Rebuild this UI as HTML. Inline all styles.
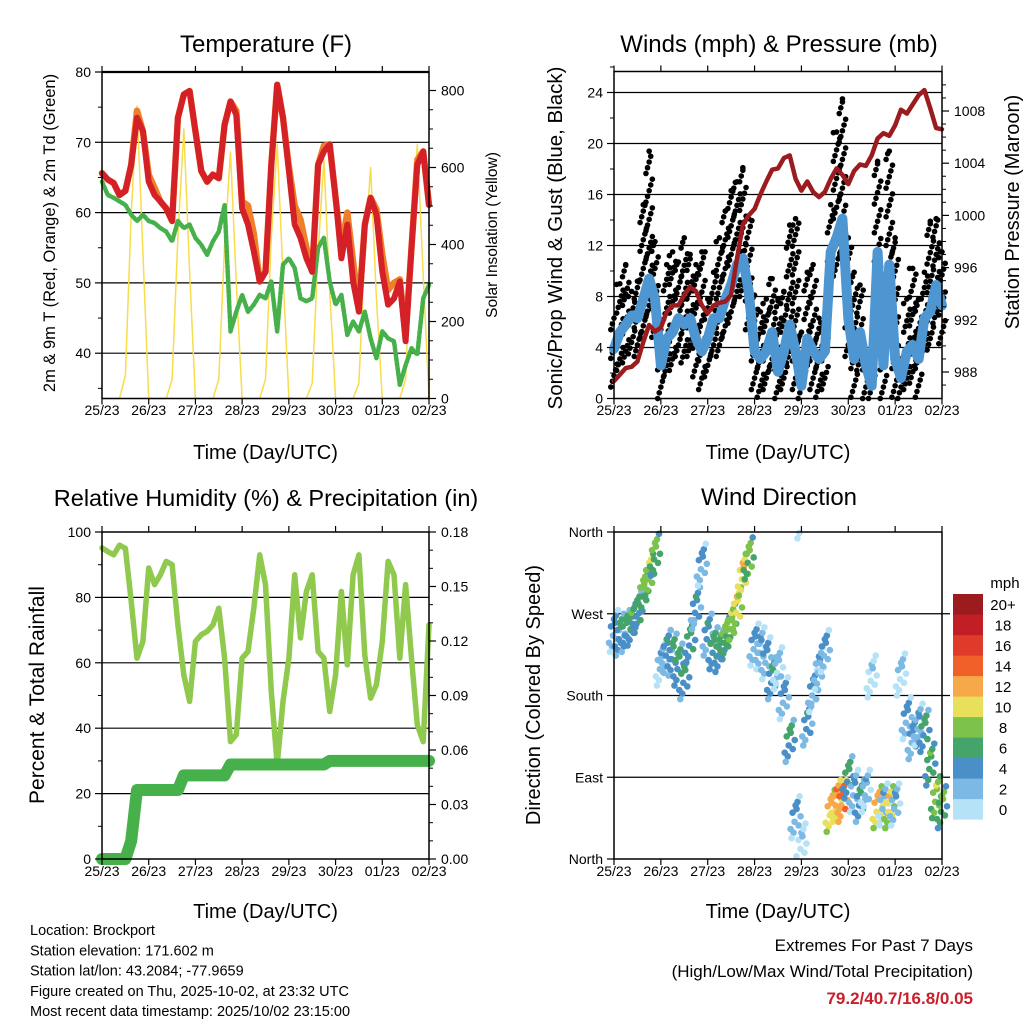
<!DOCTYPE html>
<html><head><meta charset="utf-8"><style>
html,body{margin:0;padding:0;background:#fff;}
svg{display:block;font-family:"Liberation Sans",Arial,sans-serif;}
</style></head><body>
<svg id="chart" width="1024" height="1024" viewBox="0 0 1024 1024" xmlns="http://www.w3.org/2000/svg"></svg>
<script>
// ===== data (3-hourly, 25/23 00 UTC .. 02/23 00 UTC) =====
const dayLabels=['25/23','26/23','27/23','28/23','29/23','30/23','01/23','02/23'];
const tempRed=[65.6,64.7,64.2,62.5,63.1,66.8,73.5,71.6,64.4,62.5,61.6,60.6,58.8,73.5,76.8,77.3,71.6,65.9,64.4,65.4,64.9,72.5,75.8,73.9,60.6,58.3,54.5,50.2,51.6,66.8,78.2,73.5,65.9,58.3,56.4,53.5,51.6,66.8,68.7,69.7,62.1,53.5,58.3,50.2,45.9,58.3,62.1,59.7,51.6,46.9,47.8,50.2,41.7,55,66.8,68.7,61.1];
const tempOrange=[65.6,64.7,64.2,62.5,63.1,66.8,74.5,71.6,65.4,63.5,61.6,60.6,58.8,73.5,76.8,77.3,71.6,65.9,64.4,65.4,64.9,72.5,75.8,74.5,61.6,61.0,57.0,50.2,51.6,66.8,78.2,73.5,66.5,61.0,59.0,55.0,51.6,66.8,69.5,69.7,62.1,55.0,60.0,53.0,46.5,58.3,62.1,60.5,54.0,49.0,50.0,50.5,42.5,55,67.5,68.7,61.1];
const dewGreen=[64.4,62.5,62.1,61.6,61.1,59.7,58.8,59.7,58.8,58.5,57.8,57.3,55.9,58.8,57.8,58.3,56.4,55.4,54,55.9,57.3,61.1,43.1,45.9,48.3,45.9,46.9,48.3,47.8,50.2,43.1,52.6,53.5,52.1,47.8,47.4,47.8,55,56.4,50.2,46.9,48.3,42.6,44.5,43.1,45.9,42.1,39.3,43.1,42.1,41.7,35.5,38.3,40.7,39.8,47.8,49.7];
const solar=[0,0,0,0,60,480,760,380, 0,0,0,0,50,420,700,330, 0,0,0,0,50,400,640,300, 0,0,0,0,50,420,660,320, 0,0,0,0,40,380,620,280, 0,0,0,0,40,380,600,260, 0,0,0,0,50,420,660,320, 0];
const pressure=[987.3,987.8,988.3,988.4,988.8,990.3,991.6,991.1,991.4,992.6,993.1,993.1,993.9,994.5,994.2,993.1,992.5,993.1,993.3,993.4,993.9,996.7,999.3,1000.0,1000.5,1001.6,1002.6,1003.5,1003.6,1004.4,1004.6,1002.8,1001.9,1002.6,1001.8,1001.4,1001.8,1002.8,1003.6,1003.1,1002.4,1003.4,1003.9,1003.8,1004.6,1005.9,1006.3,1006.1,1006.9,1008.1,1007.8,1008.5,1009.2,1009.6,1008.2,1006.7,1006.6];
const windSpeed=[3.9,5.2,5.8,6.5,6.3,7.8,9.4,7.8,2.6,4.7,5.2,6.3,5.8,6.3,4.7,3.7,4.7,6.3,6.3,7.8,8.9,10.5,11,8.4,3.7,3.1,3.7,5.2,2.1,3.7,5.8,3.7,1.0,4.7,3.7,3.1,3.7,11.5,12.6,14.1,6.3,3.1,5.2,2.6,1.0,11.5,2.6,10.5,3.1,1.6,3.7,4.2,3.1,6.3,6.8,8.9,7.3];
const windGust=[6.3,9,10.5,8.4,9.2,15.2,19.4,12.3,5.8,10.5,11.5,10.7,12.6,11.3,10.5,11.5,7.8,9.9,12.6,14.7,16.3,17,18.1,14.1,8.1,6.8,7.8,9.4,7.8,8.4,13.6,14.1,5.2,9.9,10.5,6.3,6.5,15.2,20.9,23.5,12.6,9.9,8.9,3.4,2.6,18.6,7.8,19.4,12.6,3.1,7.8,10.2,7.8,9.9,13.9,14.1,11.5];
const relHum=[95.1,94,93,96,95,78.8,61.4,66.5,89,83.9,86.9,91,90,71.6,56.3,48.2,66.5,68.6,69.6,71.6,76.7,61.4,35.9,38,61.4,63.5,76.7,93,83.9,51.2,28.8,48.2,61.4,86.9,67.6,81.8,86.9,63.5,61.4,45.1,56.3,81.8,59.4,86.9,93,62.4,49.2,53.3,66.5,91,86.9,61.4,83.9,61.4,41,35.9,71.6];
const precip=[0,0,0,0,0,0.01,0.038,0.038,0.038,0.038,0.038,0.038,0.038,0.038,0.046,0.046,0.046,0.046,0.046,0.046,0.046,0.046,0.052,0.052,0.052,0.052,0.052,0.052,0.052,0.052,0.052,0.052,0.052,0.052,0.052,0.052,0.052,0.052,0.052,0.054,0.054,0.054,0.054,0.054,0.054,0.054,0.054,0.054,0.054,0.054,0.054,0.054,0.054,0.054,0.054,0.054,0.054];
const windDir=[250,246,250,257,271,293,312,334,213,228,224,213,198,239,275,323,246,231,228,242,257,275,312,330,235,231,220,198,209,176,129,45,15,147,184,209,228,52,63,63,89,74,63,74,200,56,59,56,59,202,154,132,147,140,103,67,56];
const speedLabels=['0','2','4','6','8','10','12','14','16','18','20+'];
const speedColors=['#b5e2f7','#7cb9e4','#4a8fc8','#44a46a','#7dc24a','#e8e05a','#f7a94a','#f0612a','#e03a2a','#c21e26','#9b1b1e'];

const NS='http://www.w3.org/2000/svg';
const svg=document.getElementById('chart');
function mk(tag,attrs,parent){const e=document.createElementNS(NS,tag);for(const k in attrs)e.setAttribute(k,attrs[k]);(parent||svg).appendChild(e);return e;}
function txt(s,x,y,size,anchor,parent,extra){const t=mk('text',Object.assign({x:x,y:y,'font-size':size,'text-anchor':anchor||'middle',fill:'#000'},extra||{}),parent);t.textContent=s;return t;}

const P1={x0:102,x1:429,y0:72,y1:398.5};
const P2={x0:614,x1:942,y0:71.5,y1:398.5};
const P3={x0:102,x1:429,y0:532,y1:859};
const P4={x0:614,x1:942,y0:532,y1:859};
function xT(P,i){return P.x0+(i/8)*(P.x1-P.x0)/7;}
function xDay(P,d){return P.x0+d*(P.x1-P.x0)/7;}
const yTemp=v=>72+(80-v)*7.03;
const ySolar=v=>398.5-v*0.385;
const yMph=v=>398.5-v*12.75;
const yPres=v=>111+(1008-v)*13.05;
const yRH=v=>859-v*3.27;
const yPrec=v=>859-v*1816.7;
const yDir=v=>859-v*0.9083;

function gridH(P,y,g,x2){const l=mk('line',{x1:P.x0,x2:x2||P.x1,y1:y,y2:y,stroke:'#000','stroke-width':1.2},g);}
function xAxis(P,g,labelY,titleY){
  for(let d=0;d<dayLabels.length;d++){
    const x=xDay(P,d);
    mk('line',{x1:x,x2:x,y1:P.y1,y2:P.y1+6,stroke:'#000','stroke-width':1.2},g);
    mk('line',{x1:x,x2:x,y1:P.y0,y2:P.y0-6,stroke:'#000','stroke-width':1.2},g);
    const t=txt(dayLabels[d],x,labelY,14,'middle',g);
    
    
  }
  const tt=txt('Time (Day/UTC)',(P.x0+P.x1)/2,titleY,20,'middle',g);
  
  
}
function leftTicks(P,vals,labels,yf,g,minor){
  vals.forEach((v,k)=>{const y=yf(v);mk('line',{x1:P.x0,x2:P.x0-7,y1:y,y2:y,stroke:'#000','stroke-width':1.2},g);
    const t=txt(labels[k],P.x0-11,y+5,14,'end',g);});
  (minor||[]).forEach(v=>{const y=yf(v);mk('line',{x1:P.x0,x2:P.x0-4,y1:y,y2:y,stroke:'#000','stroke-width':1},g);});
}
function rightTicks(P,vals,labels,yf,g,minor){
  vals.forEach((v,k)=>{const y=yf(v);mk('line',{x1:P.x1,x2:P.x1+7,y1:y,y2:y,stroke:'#000','stroke-width':1.2},g);
    const t=txt(labels[k],P.x1+12,y+5,14,'start',g);});
  (minor||[]).forEach(v=>{const y=yf(v);mk('line',{x1:P.x1,x2:P.x1+4,y1:y,y2:y,stroke:'#000','stroke-width':1},g);});
}
function box(P,g){const r=mk('rect',{x:P.x0,y:P.y0,width:P.x1-P.x0,height:P.y1-P.y0,fill:'none',stroke:'#000','stroke-width':1.5},g);}
function line(P,arr,yf,attrs,g){const pts=arr.map((v,i)=>xT(P,i).toFixed(1)+','+yf(v).toFixed(1)).join(' ');return mk('polyline',Object.assign({points:pts,fill:'none','stroke-linejoin':'round','stroke-linecap':'round'},attrs),g);}
function rotLabel(s,x,y,size,g){return txt(s,x,y,size,'middle',g,{transform:'rotate(-90 '+x+' '+y+')'});}

// ===== Panel 1: Temperature =====
const g1=mk('g',{});
let t=txt('Temperature (F)',266,52,24,'middle',g1);
[70,60,50,40].forEach(v=>gridH(P1,yTemp(v),g1));
const sol=line(P1,solar,ySolar,{stroke:'#f8dc4a','stroke-width':1.5},g1);
const dg=line(P1,dewGreen,yTemp,{stroke:'#46b04a','stroke-width':4.5,'stroke-dasharray':'3 2'},g1);
const og=line(P1,tempOrange,yTemp,{stroke:'#f07f2a','stroke-width':6.5},g1);
const rg=line(P1,tempRed,yTemp,{stroke:'#d42027','stroke-width':6},g1);
box(P1,g1);
mk('line',{x1:P1.x0,x2:P1.x1,y1:P1.y0,y2:P1.y0,stroke:'#000','stroke-width':2.2},g1);
leftTicks(P1,[80,70,60,50,40],['80','70','60','50','40'],yTemp,g1,[75,65,55,45,35]);
rightTicks(P1,[0,200,400,600,800],['0','200','400','600','800'],ySolar,g1,[50,100,150,250,300,350,450,500,550,650,700,750]);
xAxis(P1,g1,415,459);
t=rotLabel('2m & 9m T (Red, Orange) & 2m Td (Green)',55,233,16.5,g1);
t=rotLabel('Solar Insolation (Yellow)',497,235,15.5,g1);

// ===== Panel 2: Winds & Pressure =====
const g2=mk('g',{});
t=txt('Winds (mph) & Pressure (mb)',779,52,24,'middle',g2);
[4,8,12,16,20,24].forEach(v=>gridH(P2,yMph(v),g2));
const gustG=mk('g',{fill:'#000'},g2);
windGust.forEach((gv,i)=>{let k=0;const lo=Math.max(0,windSpeed[i]-3);for(let v=lo;v<=gv;v+=0.45){mk('circle',{cx:xT(P2,i)+((k%5)-2)*1.6,cy:yMph(v),r:2.8},gustG);k++;}
  const c=mk('circle',{cx:xT(P2,i),cy:yMph(gv),r:2.8},gustG);});
const ws=line(P2,windSpeed,yMph,{stroke:'#4d96d1','stroke-width':10},g2);
const pr=line(P2,pressure,yPres,{stroke:'#9b1b1e','stroke-width':4.5},g2);
box(P2,g2);
leftTicks(P2,[0,4,8,12,16,20,24],['0','4','8','12','16','20','24'],yMph,g2,[2,6,10,14,18,22,26]);
rightTicks(P2,[988,992,996,1000,1004,1008],['988','992','996','1000','1004','1008'],yPres,g2,[987,989,990,991,993,994,995,997,998,999,1001,1002,1003,1005,1006,1007,1009,1010]);
xAxis(P2,g2,415,459);
t=rotLabel('Sonic/Prop Wind & Gust (Blue, Black)',562,238,20.5,g2);
t=rotLabel('Station Pressure (Maroon)',1019,212,20,g2);

// ===== Panel 3: RH & Precip =====
const g3=mk('g',{});
t=txt('Relative Humidity (%) & Precipitation (in)',266,506,23.5,'middle',g3);
[20,40,60,80].forEach(v=>gridH(P3,yRH(v),g3));
const rh=line(P3,relHum,yRH,{stroke:'#8fc94e','stroke-width':5.5},g3);
const pl=line(P3,precip,yPrec,{stroke:'#46b04a','stroke-width':12},g3);
box(P3,g3);
leftTicks(P3,[0,20,40,60,80,100],['0','20','40','60','80','100'],yRH,g3,[10,30,50,70,90]);
const pm=[];for(let k=1;k<18;k++)if(k%3)pm.push(k/100);
rightTicks(P3,[0,0.03,0.06,0.09,0.12,0.15,0.18],['0.00','0.03','0.06','0.09','0.12','0.15','0.18'],yPrec,g3,pm);
xAxis(P3,g3,876,918);
t=rotLabel('Percent & Total Rainfall',44,695,21,g3);

// ===== Panel 4: Wind direction =====
const g4=mk('g',{});
t=txt('Wind Direction',779,505,24,'middle',g4);
[90,180,270].forEach(v=>gridH(P4,yDir(v),g4,950));
const jx=[-5,-3,-1,1,3,5,0,-2,2,-4,4],jd=[-12,6,-4,10,-8,2,14,-16,18,-22,24],jv=[-1,0.5,-0.5,1,0,-1.5,1.5,-0.8,0.8,-2,-2.5];
const dirG=mk('g',{},g4);
windDir.forEach((d,i)=>{for(let k=0;k<jx.length;k++){let dd=d+jd[k];if(dd<0)dd+=360;if(dd>360)dd-=360;const v=Math.max(0,windSpeed[i]+jv[k]);const b=Math.min(10,Math.floor(v/2));
  const c=mk('circle',{cx:xT(P4,i)+jx[k],cy:yDir(dd),r:3.3,fill:speedColors[b]},dirG);
  
  }});
box(P4,g4);
const dirLab=['North','East','South','West','North'];
leftTicks(P4,[0,90,180,270,360],dirLab,yDir,g4,[]);
xAxis(P4,g4,876,918);
t=rotLabel('Direction (Colored By Speed)',540,695,20,g4);
const cb=mk('g',{},g4);
t=txt('mph',1005,588,15,'middle',cb);
for(let k=0;k<11;k++){const y=594+(10-k)*20.5;const r=mk('rect',{x:953,y:y,width:30,height:20.6,fill:speedColors[k]},cb);
  
  
  const l=txt(speedLabels[k],1003,y+16,15,'middle',cb);}

// ===== footer text =====
const ft=mk('g',{});
['Location: Brockport','Station elevation: 171.602 m','Station lat/lon: 43.2084; -77.9659','Figure created on Thu, 2025-10-02, at 23:32 UTC','Most recent data timestamp: 2025/10/02 23:15:00'].forEach((s,k)=>{const e=txt(s,30,935+k*20.3,14.5,'start',ft);});
const ex=mk('g',{});
t=txt('Extremes For Past 7 Days',973,951,17,'end',ex);
t=txt('(High/Low/Max Wind/Total Precipitation)',973,977,17,'end',ex);
t=txt('79.2/40.7/16.8/0.05',973,1004,17,'end',ex,{fill:'#c8202a','font-weight':'bold'});
</script>
</body></html>
